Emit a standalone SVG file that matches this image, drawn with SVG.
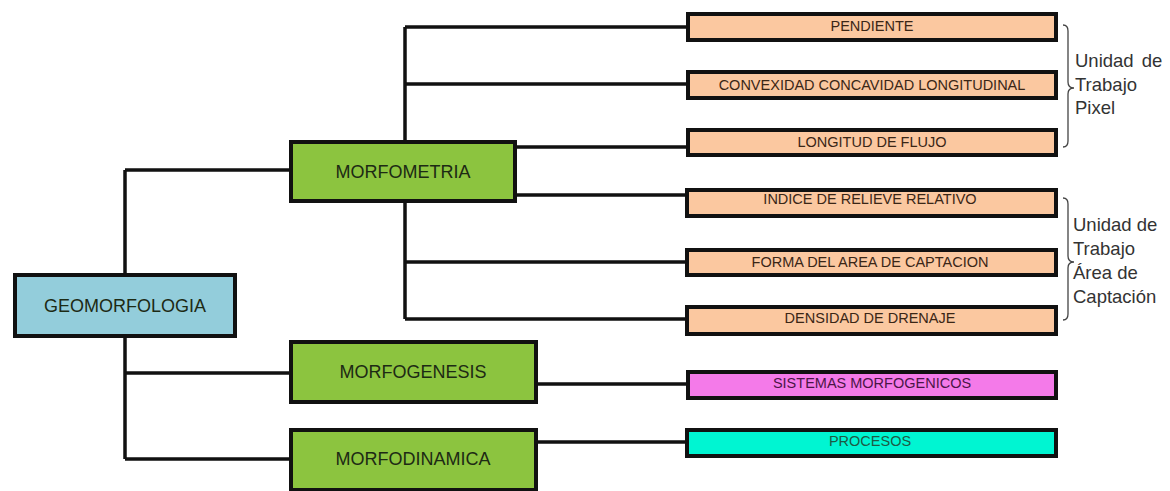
<svg xmlns="http://www.w3.org/2000/svg" width="1170" height="491" viewBox="0 0 1170 491">
  <style>
    .box { stroke: #111; stroke-width: 4; }
    .main { fill: #8cc43f; }
    .root { fill: #93cddb; }
    .leaf { fill: #fbc8a0; }
    .pink { fill: #f47ae9; }
    .cyan { fill: #00f5d2; }
    .big { font-family: "Liberation Sans", Arial, sans-serif; font-size: 18px; fill: #1d2a14; text-anchor: middle; }
    .small { font-family: "Liberation Sans", Arial, sans-serif; font-size: 14.5px; fill: #3a2616; text-anchor: middle; }
    .note { font-family: "Liberation Sans", Arial, sans-serif; font-size: 18.5px; fill: #333; }
    .wire { stroke: #111; stroke-width: 3.5; fill: none; }
    .brace { stroke: #444; stroke-width: 1.3; fill: none; }
  </style>
  <rect width="1170" height="491" fill="#fff"/>

  <!-- connectors -->
  <g id="connectors">
    <path class="wire" d="M125,170 V459 M125,170 H291 M125,373 H291 M125,459 H291"/>
    <path class="wire" d="M405,27 V142 M405,201 V319"/>
    <path class="wire" d="M405,27 H686 M405,84 H686 M515,147 H686 M515,195 H686 M405,262 H686 M405,319 H686"/>
    <path class="wire" d="M536,384 H686 M536,442 H686"/>
  </g>

  <g id="geomorfologia">
    <rect class="box root" x="15" y="275" width="220" height="61"/>
    <text class="big" x="125" y="312">GEOMORFOLOGIA</text>
  </g>
  <g id="morfometria">
    <rect class="box main" x="291" y="142" width="224" height="59"/>
    <text class="big" x="403" y="178">MORFOMETRIA</text>
  </g>
  <g id="morfogenesis">
    <rect class="box main" x="291" y="342" width="245" height="60"/>
    <text class="big" x="413" y="378">MORFOGENESIS</text>
  </g>
  <g id="morfodinamica">
    <rect class="box main" x="291" y="430" width="245" height="60"/>
    <text class="big" x="413" y="465">MORFODINAMICA</text>
  </g>

  <g id="pendiente">
    <rect class="box leaf" x="688" y="14" width="368" height="26"/>
    <text class="small" x="872" y="31">PENDIENTE</text>
  </g>
  <g id="convexidad">
    <rect class="box leaf" x="688" y="72" width="368" height="26"/>
    <text class="small" x="872" y="90">CONVEXIDAD CONCAVIDAD LONGITUDINAL</text>
  </g>
  <g id="longitud">
    <rect class="box leaf" x="688" y="130" width="368" height="25"/>
    <text class="small" x="872" y="147">LONGITUD DE FLUJO</text>
  </g>
  <g id="indice">
    <rect class="box leaf" x="687" y="190" width="369" height="26"/>
    <text class="small" x="870" y="204">INDICE DE RELIEVE RELATIVO</text>
  </g>
  <g id="forma">
    <rect class="box leaf" x="687" y="250" width="369" height="25"/>
    <text class="small" x="870" y="267">FORMA DEL AREA DE CAPTACION</text>
  </g>
  <g id="densidad">
    <rect class="box leaf" x="687" y="307" width="369" height="27"/>
    <text class="small" x="870" y="323">DENSIDAD DE DRENAJE</text>
  </g>
  <g id="sistemas">
    <rect class="box pink" x="688" y="372" width="368" height="26"/>
    <text class="small" x="872" y="388" style="fill:#4a1646">SISTEMAS MORFOGENICOS</text>
  </g>
  <g id="procesos">
    <rect class="box cyan" x="687" y="430" width="369" height="26"/>
    <text class="small" x="870" y="446" style="fill:#1e5a44">PROCESOS</text>
  </g>

  <!-- group annotations -->
  <g id="unidad-pixel">
    <path class="brace" d="M1063,25 Q1068,25 1068,31 V82 Q1068,88 1074,88 Q1068,88 1068,94 V141 Q1068,147 1063,147"/>
    <text class="note" x="1075" y="67" word-spacing="3">Unidad de</text>
    <text class="note" x="1075" y="91">Trabajo</text>
    <text class="note" x="1075" y="114">Pixel</text>
  </g>
  <g id="unidad-area">
    <path class="brace" d="M1063,198 Q1068,198 1068,204 V256 Q1068,262 1074,262 Q1068,262 1068,268 V314 Q1068,320 1063,320"/>
    <text class="note" x="1073" y="231">Unidad de</text>
    <text class="note" x="1073" y="255">Trabajo</text>
    <text class="note" x="1073" y="279">Área de</text>
    <text class="note" x="1073" y="303">Captación</text>
  </g>
</svg>
